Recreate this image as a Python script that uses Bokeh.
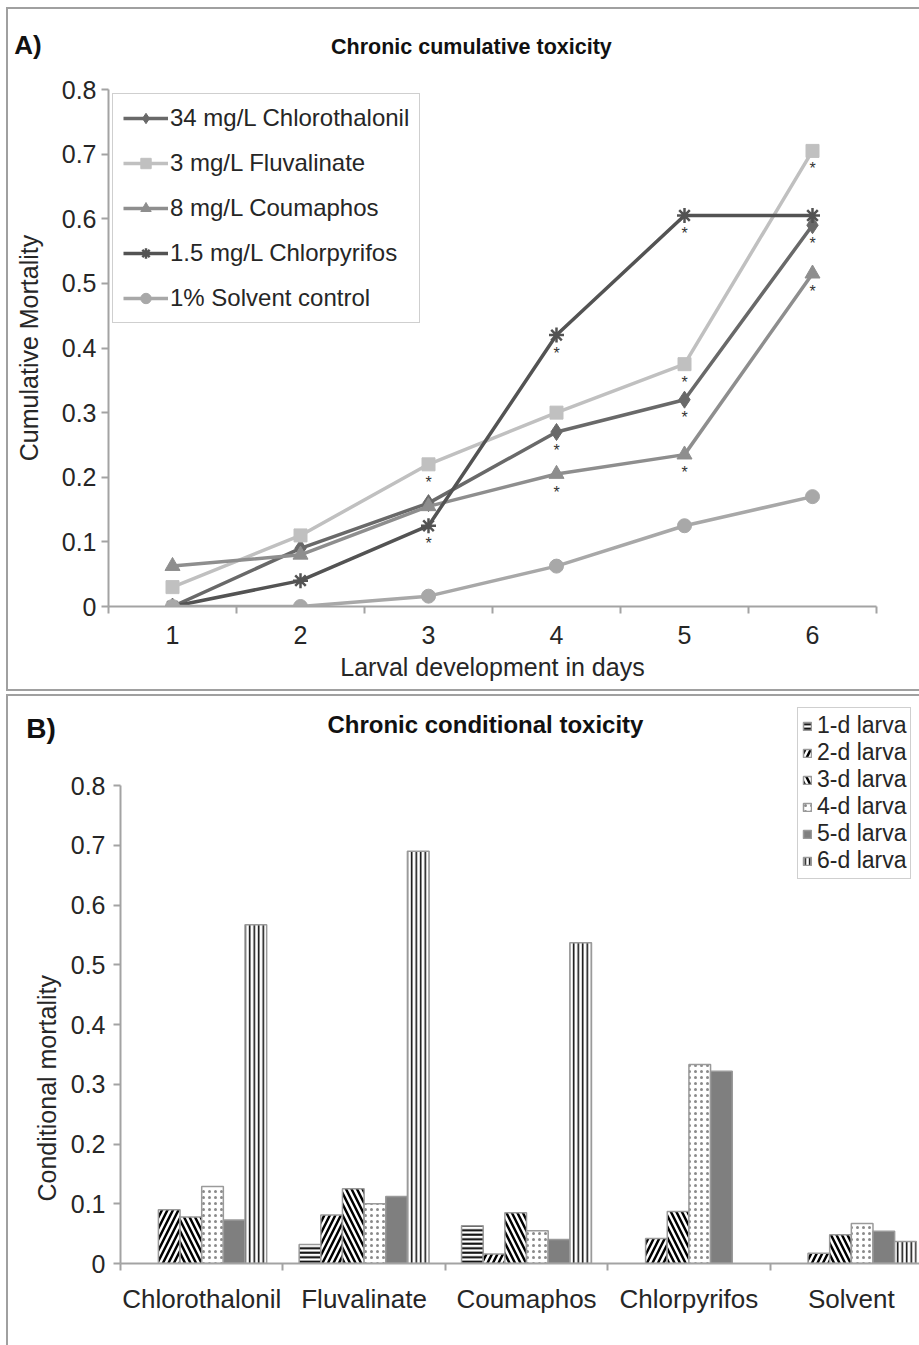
from bokeh.plotting import figure
from bokeh.models import (Range1d, FixedTicker, NumeralTickFormatter, Legend, LegendItem,
                          Label, Title)
from bokeh.embed import file_html
from bokeh.resources import INLINE
from bokeh.core.properties import value

# ---------------- data: panel A ----------------
days = [1, 2, 3, 4, 5, 6]
chlorothalonil = [0.0, 0.09, 0.16, 0.27, 0.32, 0.59]
fluvalinate = [0.03, 0.11, 0.22, 0.30, 0.375, 0.705]
coumaphos = [0.0625, 0.08, 0.155, 0.205, 0.235, 0.515]
chlorpyrifos = [0.0, 0.04, 0.125, 0.42, 0.605, 0.605]
solvent = [0.0, 0.0, 0.016, 0.0625, 0.125, 0.17]
series_labels = ["34 mg/L Chlorothalonil", "3 mg/L Fluvalinate", "8 mg/L Coumaphos",
                 "1.5 mg/L Chlorpyrifos", "1% Solvent control"]
# significance asterisks: (series index, day)
signif = [(1, 3), (3, 3), (3, 4), (0, 4), (2, 4), (1, 5), (0, 5), (2, 5), (3, 5),
          (1, 6), (0, 6), (2, 6)]

# ---------------- data: panel B ----------------
treatments = ["Chlorothalonil", "Fluvalinate", "Coumaphos", "Chlorpyrifos", "Solvent"]
larva_1d = [0.0, 0.032, 0.063, 0.0, 0.0]
larva_2d = [0.090, 0.081, 0.016, 0.042, 0.017]
larva_3d = [0.078, 0.125, 0.085, 0.087, 0.048]
larva_4d = [0.129, 0.100, 0.055, 0.333, 0.067]
larva_5d = [0.073, 0.112, 0.040, 0.322, 0.054]
larva_6d = [0.567, 0.690, 0.537, 0.0, 0.037]
larva_labels = ["1-d larva", "2-d larva", "3-d larva", "4-d larva", "5-d larva", "6-d larva"]
y_ticks = [0, 0.1, 0.2, 0.3, 0.4, 0.5, 0.6, 0.7, 0.8]

FONT = "Liberation Sans"
AXC = "#a3a3a3"
TXT = "#262626"
BORDER = "2px solid #a0a0a0"

# ---------------- layout (page pixels) ----------------
PAGE_W = 919
# panel A box: content starts at (8, 9)
A_X0, A_Y0, A_W, A_H = 8, 9, 911, 680
A_L, A_R, A_T, A_B = 108, 874, 89, 602
# panel B box: content starts at (8, 696)
B_X0, B_Y0, B_W, B_H = 8, 696, 911, 649
B_L, B_T0, B_B = 120, 785, 1262     # B_T0: page y of 0.8
B_FT = 704                          # frame top (page)
B_CAT = 162.0


def a_x(px):
    return 0.5 + (px - A_L) / (A_R - A_L) * 6


def a_y(py):
    return 0.8 * (A_B - py) / (A_B - A_T)


def b_x(px):
    return 0.5 + (px - B_L) / B_CAT


def b_y(py):
    return 0.8 * (B_B - py) / (B_B - B_T0)


def style_axes(p):
    p.xgrid.visible = False
    p.ygrid.visible = False
    p.outline_line_color = None
    for ax in (p.xaxis[0], p.yaxis[0]):
        ax.axis_line_color = AXC
        ax.axis_line_width = 2
        ax.major_tick_line_color = AXC
        ax.major_tick_line_width = 2
        ax.minor_tick_line_color = AXC
        ax.minor_tick_line_width = 2
        ax.major_label_text_font = FONT
        ax.major_label_text_color = TXT
        ax.axis_label_text_font = FONT
        ax.axis_label_text_color = TXT
        ax.axis_label_text_font_style = "normal"


# ======================= Panel A =======================
pA = figure(width=A_W, height=A_H, x_range=Range1d(0.5, 6.5), y_range=Range1d(0, 0.8),
            output_backend="svg", toolbar_location=None,
            min_border_left=A_L - A_X0, min_border_right=PAGE_W - A_R,
            min_border_top=A_T - A_Y0, min_border_bottom=A_Y0 + A_H - A_B)
style_axes(pA)
pA.xaxis.ticker = FixedTicker(ticks=days, minor_ticks=[d - 0.5 for d in days] + [6.5])
pA.xaxis.major_tick_out = 0
pA.xaxis.major_tick_in = 0
pA.xaxis.minor_tick_out = 7
pA.xaxis.minor_tick_in = 0
pA.xaxis.major_label_text_font_size = "25px"
pA.xaxis.major_label_standoff = 12
pA.xaxis.axis_label = "Larval development in days"
pA.xaxis.axis_label_text_font_size = "25px"
pA.xaxis.axis_label_standoff = 6
pA.yaxis.ticker = FixedTicker(ticks=y_ticks)
pA.yaxis.formatter = NumeralTickFormatter(format="0.[0]")
pA.yaxis.major_tick_out = 7
pA.yaxis.major_tick_in = 0
pA.yaxis.minor_tick_out = 0
pA.yaxis.major_label_text_font_size = "25px"
pA.yaxis.major_label_standoff = 5
pA.yaxis.axis_label = "Cumulative Mortality"
pA.yaxis.axis_label_text_font_size = "25px"
pA.yaxis.axis_label_standoff = 16

series = [chlorothalonil, fluvalinate, coumaphos, chlorpyrifos, solvent]
colors = ["#696969", "#c0c0c0", "#8e8e8e", "#535353", "#a8a8a8"]
markers = ["diamond", "square", "triangle", "asterisk", "circle"]
msizes = [17, 13, 15, 15, 14]
items = []
for vals, col, mk, ms, lab in zip(series, colors, markers, msizes, series_labels):
    lr = pA.line(days, vals, line_color=col, line_width=3.5)
    if mk == "asterisk":
        sr = pA.scatter(days, vals, marker=mk, size=ms, line_color=col, line_width=2.5)
    else:
        sr = pA.scatter(days, vals, marker=mk, size=ms, fill_color=col, line_color=col)
    items.append(LegendItem(label=lab, renderers=[lr, sr]))

sx = [days[d - 1] for s, d in signif]
sy = [series[s][d - 1] for s, d in signif]
pA.text(sx, sy, text=["*"] * len(sx), text_align="center", text_baseline="middle",
        text_font=value(FONT), text_font_size="16px", text_color="#333333", y_offset=18)

legA = Legend(items=items, location="top_left", margin=4, padding=10, spacing=17,
              glyph_width=45, glyph_height=26, label_height=26, label_standoff=2,
              label_text_font=FONT, label_text_font_size="24px", label_text_color=TXT,
              border_line_color="#a0a0a0", border_line_width=1.5,
              background_fill_color="white", background_fill_alpha=1.0)
pA.add_layout(legA)

pA.add_layout(Label(x=a_x(14), y=a_y(45), text="A)", text_font=FONT, text_font_style="bold",
                    text_font_size="26px", text_color="#111111", text_align="left",
                    text_baseline="middle"), "above")
pA.add_layout(Label(x=a_x(470), y=a_y(47), text="Chronic cumulative toxicity", text_font=FONT,
                    text_font_style="bold", text_font_size="21.5px", text_color="#111111",
                    text_align="center", text_baseline="middle"), "above")
pA.styles = {"box-sizing": "content-box", "margin-left": "6px", "margin-top": "7px",
             "border-left": BORDER, "border-top": BORDER, "border-bottom": BORDER}

# ======================= Panel B =======================
pB = figure(width=B_W, height=B_H, x_range=Range1d(0.5, b_x(PAGE_W)),
            y_range=Range1d(0, b_y(B_FT)),
            output_backend="svg", toolbar_location=None,
            min_border_left=B_L - B_X0, min_border_right=0,
            min_border_top=B_FT - B_Y0, min_border_bottom=B_Y0 + B_H - B_B)
style_axes(pB)
cats = [1, 2, 3, 4, 5]
pB.xaxis.ticker = FixedTicker(ticks=cats, minor_ticks=[c - 0.5 for c in cats] + [5.5])
pB.xaxis.major_label_overrides = {c: t for c, t in zip(cats, treatments)}
pB.xaxis.major_tick_out = 0
pB.xaxis.major_tick_in = 0
pB.xaxis.minor_tick_out = 7
pB.xaxis.minor_tick_in = 0
pB.xaxis.major_label_text_font_size = "26px"
pB.xaxis.major_label_standoff = 13
pB.yaxis.ticker = FixedTicker(ticks=y_ticks)
pB.yaxis.formatter = NumeralTickFormatter(format="0.[0]")
pB.yaxis.bounds = (0, 0.8)
pB.yaxis.major_tick_out = 7
pB.yaxis.major_tick_in = 0
pB.yaxis.minor_tick_out = 0
pB.yaxis.major_label_text_font_size = "25px"
pB.yaxis.major_label_standoff = 8

larva = [larva_1d, larva_2d, larva_3d, larva_4d, larva_5d, larva_6d]
bw = 1 / 7.5
bar_styles = [
    dict(fill_color="white", hatch_pattern="horizontal_line", hatch_color="black",
         hatch_scale=4.5, hatch_weight=2),
    dict(fill_color="white", hatch_pattern="right_diagonal_line", hatch_color="black",
         hatch_scale=11, hatch_weight=2.5),
    dict(fill_color="white", hatch_pattern="left_diagonal_line", hatch_color="black",
         hatch_scale=11, hatch_weight=2.5),
    dict(fill_color="white", hatch_pattern="dot", hatch_color="#8a8a8a",
         hatch_scale=6, hatch_weight=1),
    dict(fill_color="#7f7f7f"),
    dict(fill_color="white", hatch_pattern="vertical_line", hatch_color="black",
         hatch_scale=4.5, hatch_weight=1.5),
]
itemsB = []
for d, (vals, st, lab) in enumerate(zip(larva, bar_styles, larva_labels)):
    xs = [c + (d - 2.5) * bw for c, v in zip(cats, vals) if v > 0]
    tops = [v for v in vals if v > 0]
    r = pB.vbar(x=xs, top=tops, bottom=0, width=bw, line_color="#9a9a9a", line_width=1.5, **st)
    itemsB.append(LegendItem(label=lab, renderers=[r]))

legB = Legend(items=itemsB, location=(797 - B_L, B_B - 878), margin=0, padding=4, spacing=0,
              glyph_width=10, glyph_height=10, label_height=26, label_standoff=5,
              label_text_font=FONT, label_text_font_size="23px", label_text_color=TXT,
              border_line_color="#a0a0a0", border_line_width=1.5,
              background_fill_color="white", background_fill_alpha=1.0)
pB.add_layout(legB)

pB.add_layout(Title(text="Conditional mortality", align="left", offset=62, standoff=14,
                    text_font=FONT, text_font_size="25px", text_font_style="normal",
                    text_color=TXT), "left")
pB.add_layout(Label(x=b_x(26), y=b_y(728), text="B)", text_font=FONT, text_font_style="bold",
                    text_font_size="28px", text_line_height=1.0, text_color="#111111",
                    text_align="left", text_baseline="middle"), "below")
pB.add_layout(Label(x=b_x(484), y=b_y(724), text="Chronic conditional toxicity", text_font=FONT,
                    text_font_style="bold", text_font_size="24px", text_color="#111111",
                    text_align="center", text_baseline="middle"))
pB.styles = {"box-sizing": "content-box", "margin-left": "6px", "margin-top": "3px",
             "border-left": BORDER, "border-top": BORDER}

open("out.html", "w").write(file_html([pA, pB], INLINE))
